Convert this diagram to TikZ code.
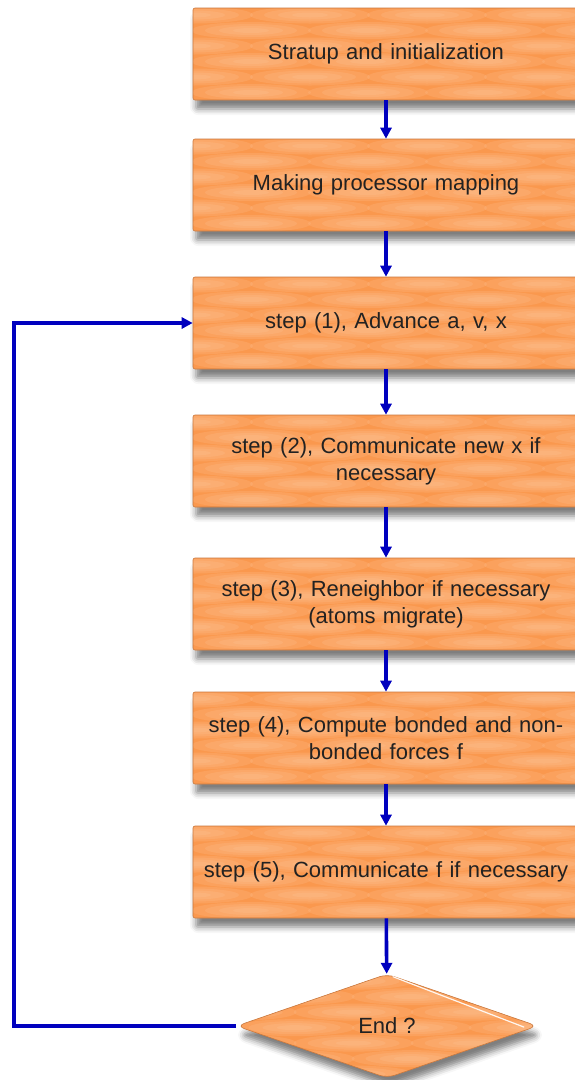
\documentclass[tikz,border=0pt]{standalone}
\usepackage{fontspec}
\setmainfont{Liberation Sans}
\usetikzlibrary{arrows.meta,shapes.geometric,shadows.blur}

\definecolor{boxbase}{RGB}{250,152,78}
\definecolor{boxlight}{RGB}{255,200,156}
\definecolor{boxedge}{RGB}{200,120,62}
\definecolor{flowblue}{RGB}{0,0,190}
\definecolor{txt}{RGB}{34,34,34}

\tikzset{
  % woven texture of soft light ellipses inside a shape
  texture/.style={path picture={
    \path (path picture bounding box.north west) coordinate (tnw);
    \foreach \r in {0,...,7}{
      \foreach \c in {-1,...,4}{
        \pgfmathsetmacro{\dx}{\c*117+mod(\r,2)*58}
        \pgfmathsetmacro{\dy}{-\r*15.5-7}
        \foreach \ra/\rb in {60/8.5, 46/6.5, 32/4.5, 18/2.5}{
          \fill[boxlight, opacity=0.2]
            ([xshift=\dx pt, yshift=\dy pt]tnw) ellipse [x radius=\ra, y radius=\rb];
        }
      }}}},
  orangeshape/.style={draw=boxedge, line width=0.6pt, fill=boxbase, inner sep=0pt,
    text=txt, font=\fontsize{22}{27}\selectfont, texture,
    blur shadow={shadow xshift=3pt, shadow yshift=-9pt,
                 shadow blur radius=6pt, shadow opacity=50}},
  stepbox/.style={orangeshape, rectangle, rounded corners=2pt,
    minimum width=386pt, minimum height=92pt, text width=374pt, align=center},
  decision/.style={orangeshape, diamond, aspect=2.9, rounded corners=8pt,
    minimum width=301pt, minimum height=104pt},
  flow/.style={draw=flowblue, line width=3.6pt, -{Triangle[length=11pt,width=11pt]}}
}

\begin{document}
\begin{tikzpicture}[x=1pt,y=-1pt]
  \useasboundingbox (0,0) rectangle (574,1080);

  \node[stepbox] (b1) at (386,54)  {Stratup and initialization};
  \node[stepbox] (b2) at (386,185) {Making processor mapping};
  \node[stepbox] (b3) at (386,323) {step (1), Advance a, v, x};
  \node[stepbox] (b4) at (386,461) {step (2), Communicate new x if\\necessary};
  \node[stepbox] (b5) at (386,604) {step (3), Reneighbor if necessary\\(atoms migrate)};
  \node[stepbox] (b6) at (386,738) {step (4), Compute bonded and non-\\bonded forces f};
  \node[stepbox] (b7) at (386,872) {step (5), Communicate f if necessary};
  \node[decision] (d) at (387,1026) {End ?};

  % highlight along the upper right edge of the decision
  \draw[white, line width=1.2pt, line cap=round, opacity=0.9]
    ([xshift=6pt,yshift=-3pt]d.north) -- ([xshift=-14pt,yshift=-1pt]d.east);

  \draw[flow] (b1) -- (b2);
  \draw[flow] (b2) -- (b3);
  \draw[flow] (b3) -- (b4);
  \draw[flow] (b4) -- (b5);
  \draw[flow] (b5) -- (b6);
  \draw[flow] (b6) -- (b7);
  \draw[flow] (b7) -- (d);

  \coordinate (loop) at (14,1026);
  \draw[flow] (d.west) -- (loop) |- (b3.west);
\end{tikzpicture}
\end{document}
